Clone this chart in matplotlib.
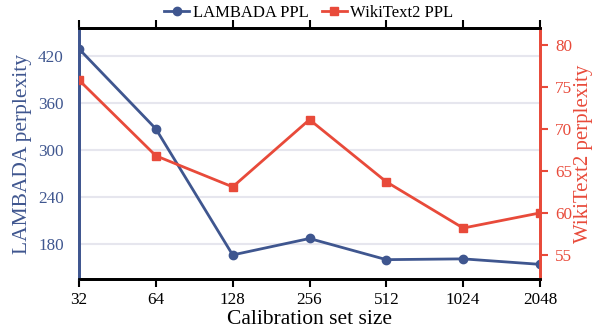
import matplotlib
matplotlib.use("Agg")
import matplotlib.pyplot as plt

plt.rcParams['font.family'] = ['Liberation Serif', 'DejaVu Serif']

sizes = [32, 64, 128, 256, 512, 1024, 2048]
lambada_ppl = [429, 327, 166, 187, 160, 161, 154]
wiki_ppl = [75.8, 66.8, 63.1, 71.1, 63.7, 58.2, 60.0]
left_ticks = [180, 240, 300, 360, 420]
right_ticks = [55, 60, 65, 70, 75, 80]

blue = '#3f568f'
red = '#e84a3a'

fig = plt.figure(figsize=(5.94, 3.34), dpi=100)
ax = fig.add_axes([79/594, 1-279/334, (540-79)/594, (279-28)/334])
ax2 = ax.twinx()

l1, = ax.plot(sizes, lambada_ppl, color=blue, marker='o', ms=6, lw=2, label='LAMBADA PPL', zorder=3)
l2, = ax2.plot(sizes, wiki_ppl, color=red, marker='s', ms=6, lw=2, label='WikiText2 PPL', zorder=3)

ax.set_xscale('log', base=2)
ax.set_xlim(32, 2048)
ax.set_xticks(sizes)
ax.set_xticklabels([str(s) for s in sizes])
ax.minorticks_off()
ax.set_ylim(135.3, 455.7)
ax.set_yticks(left_ticks)
ax2.set_ylim(52.14, 82.0)
ax2.set_yticks(right_ticks)

ax.grid(axis='y', color='#e6e6ee', lw=1.5, zorder=0)
ax.set_axisbelow(True)

fs = 12.3
lfs = 15.5
ax.set_xlabel('Calibration set size', fontsize=lfs, labelpad=1)
ax.set_ylabel('LAMBADA perplexity', fontsize=lfs, color=blue, labelpad=4)
ax2.set_ylabel('WikiText2 perplexity', fontsize=15, color=red, labelpad=1)

ax.tick_params(axis='x', labelsize=fs, direction='out', length=6, width=1.5, top=True, colors='black')
ax.tick_params(axis='y', labelsize=fs, length=0, labelcolor=blue, pad=11)
ax2.tick_params(axis='y', labelsize=fs, length=6, width=1.5, color=red, labelcolor=red, pad=5)
ax2.tick_params(axis='x', top=False)

for a in (ax, ax2):
    a.spines['top'].set_color('black')
    a.spines['bottom'].set_color('black')
    a.spines['top'].set_linewidth(2)
    a.spines['bottom'].set_linewidth(2)
    a.spines['left'].set_color(blue)
    a.spines['left'].set_linewidth(2)
    a.spines['right'].set_color(red)
    a.spines['right'].set_linewidth(2)

fig.legend([l1, l2], ['LAMBADA PPL', 'WikiText2 PPL'], loc='upper center',
           bbox_to_anchor=(0.52, 1.03), ncol=2, frameon=False, fontsize=12,
           handlelength=1.5, handletextpad=0.2, columnspacing=0.8)

fig.savefig('out.png', dpi=100)
